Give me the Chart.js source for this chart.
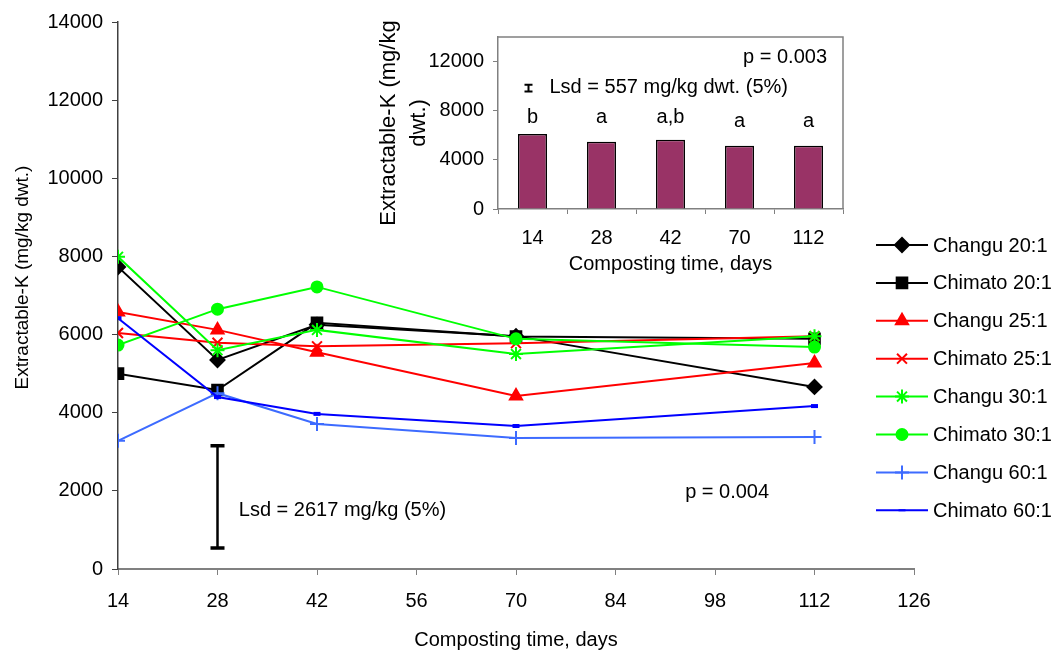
<!DOCTYPE html>
<html>
<head>
<meta charset="utf-8">
<style>
  html, body { margin: 0; padding: 0; background: #fff; }
  #wrap { position: relative; width: 1053px; height: 658px; }
  #main { position: absolute; left: 0; top: 0; }
  #inset { position: absolute; left: 360px; top: 15px; }
</style>
</head>
<body>
<div id="wrap">
  <canvas id="main" width="1053" height="658"></canvas>
  <canvas id="inset" width="495" height="265"></canvas>
</div>
<script src="https://cdn.jsdelivr.net/npm/chart.js@4.4.0/dist/chart.umd.min.js"></script>
<script>
// main chart data (mg/kg dwt.)
const days = [14, 28, 42, 70, 112];
const seriesNames = ['Changu 20:1', 'Chimato 20:1', 'Changu 25:1', 'Chimato 25:1',
                     'Changu 30:1', 'Chimato 30:1', 'Changu 60:1', 'Chimato 60:1'];
const changu20  = [7730, 5350, 6250, 5960, 4660];
const chimato20 = [5000, 4580, 6300, 5950, 5890];
const changu25  = [6580, 6120, 5550, 4430, 5270];
const chimato25 = [6040, 5790, 5700, 5780, 5960];
const changu30  = [7990, 5600, 6120, 5500, 5960];
const chimato30 = [5730, 6650, 7220, 5890, 5680];
const changu60  = [3280, 4500, 3710, 3350, 3380];
const chimato60 = [6420, 4400, 3970, 3660, 4170];
const xTickMin = 14, xTickMax = 126, xTickStep = 14;
const yTickMax = 14000, yTickStep = 2000;
const lsdMainDay = 28, lsdMainLow = 540, lsdMainValue = 2617;

// inset data
const insetDays = ['14', '28', '42', '70', '112'];
const insetMeans = [6100, 5470, 5630, 5140, 5140];
const insetLetters = ['b', 'a', 'a,b', 'a', 'a'];
const insetLetterY = [7450, 7450, 7450, 7100, 7100];
const insetYMax = 14000;
const insetYTicks = [0, 4000, 8000, 12000];
const lsdInsetLow = 9560, lsdInsetValue = 557;

const FAMILY = '"Liberation Sans", Arial, sans-serif';
const FS = 20;
const FONT = FS + 'px ' + FAMILY;

const styles = [
  { color: '#000000', point: 'rectRot', r: 7 },
  { color: '#000000', point: 'rect', r: 7.5 },
  { color: '#ff0000', point: 'triangle', r: 7 },
  { color: '#ff0000', point: 'crossRot', r: 7 },
  { color: '#00ff00', point: 'star', r: 7 },
  { color: '#00ff00', point: 'circle', r: 5.5 },
  { color: '#3d6bff', point: 'cross', r: 7 },
  { color: '#0000ff', point: 'line', r: 3.5 }
];
const allSeries = [changu20, chimato20, changu25, chimato25, changu30, chimato30, changu60, chimato60];

Chart.defaults.font.family = FAMILY;
Chart.defaults.font.size = FS;
Chart.defaults.color = '#000';

function marker(ctx, st, x, y) {
  ctx.fillStyle = st.color;
  ctx.strokeStyle = st.color;
  Chart.helpers.drawPoint(ctx, {
    pointStyle: st.point, radius: st.r, rotation: 0,
    borderWidth: st.point === 'line' ? 4 : 2
  }, x, y);
}

const mainExtras = {
  id: 'mainExtras',
  afterDatasetsDraw(chart) {
    const { ctx, chartArea: a, scales: { x, y } } = chart;
    ctx.save();
    // Lsd bar
    const lx = x.getPixelForValue(lsdMainDay);
    const y1 = y.getPixelForValue(lsdMainLow);
    const y2 = y.getPixelForValue(lsdMainLow + lsdMainValue);
    ctx.strokeStyle = '#000';
    ctx.lineWidth = 2.5;
    ctx.beginPath();
    ctx.moveTo(lx, y1); ctx.lineTo(lx, y2);
    ctx.stroke();
    ctx.lineWidth = 3.5;
    ctx.beginPath();
    ctx.moveTo(lx - 7, y1); ctx.lineTo(lx + 7, y1);
    ctx.moveTo(lx - 7, y2); ctx.lineTo(lx + 7, y2);
    ctx.stroke();

    ctx.font = FONT;
    ctx.fillStyle = '#000';
    ctx.textAlign = 'left';
    ctx.textBaseline = 'middle';
    ctx.fillText('Lsd = 2617 mg/kg (5%)', x.getPixelForValue(31), y.getPixelForValue(1510));
    ctx.fillText('p = 0.004', x.getPixelForValue(93.8), y.getPixelForValue(1970));

    // y axis title, sits a bit above the plot centre
    ctx.save();
    ctx.font = '19px ' + FAMILY;
    ctx.textAlign = 'center';
    ctx.translate(23, (a.top + a.bottom) / 2 - 18);
    ctx.rotate(-Math.PI / 2);
    ctx.fillText('Extractable-K (mg/kg dwt.)', 0, 0);
    ctx.restore();

    // legend
    const top = 245, step = 37.9;
    seriesNames.forEach((name, i) => {
      const st = styles[i];
      const ly = top + i * step;
      ctx.strokeStyle = st.color;
      ctx.lineWidth = 2;
      ctx.beginPath();
      ctx.moveTo(876, ly); ctx.lineTo(928, ly);
      ctx.stroke();
      marker(ctx, st, 902, ly);
      ctx.fillStyle = '#000';
      ctx.fillText(name, 933, ly + 1);
    });
    ctx.restore();
  }
};

new Chart(document.getElementById('main'), {
  type: 'line',
  data: {
    datasets: allSeries.map((vals, i) => ({
      label: seriesNames[i],
      data: vals.map((v, k) => ({ x: days[k], y: v })),
      borderColor: styles[i].color,
      backgroundColor: styles[i].color,
      pointBackgroundColor: styles[i].color,
      pointBorderColor: styles[i].color,
      pointStyle: styles[i].point,
      pointRadius: styles[i].r,
      pointBorderWidth: styles[i].point === 'line' ? 4 : 2,
      borderWidth: 2,
      tension: 0,
      order: 8 - i
    }))
  },
  options: {
    responsive: false,
    animation: false,
    layout: { padding: { left: 0, right: 139, top: 22, bottom: 0 } },
    plugins: { legend: { display: false }, tooltip: { enabled: false } },
    scales: {
      x: {
        type: 'linear',
        min: xTickMin, max: xTickMax,
        ticks: { stepSize: xTickStep, padding: 14, color: '#000', callback: v => String(v) },
        grid: { drawOnChartArea: false, tickLength: 6, color: '#808080' },
        border: { color: '#808080', width: 2 },
        title: { display: true, text: 'Composting time, days', padding: { top: 0, bottom: 6 } },
        afterFit(s) { s.height = 89; }
      },
      y: {
        min: 0, max: yTickMax,
        ticks: { stepSize: yTickStep, padding: 9, color: '#000', callback: v => String(v) },
        grid: { drawOnChartArea: false, tickLength: 6, color: '#404040' },
        border: { color: '#404040', width: 1.5 },
        afterFit(s) { s.width = 118; }
      }
    }
  },
  plugins: [mainExtras]
});

const insetExtras = {
  id: 'insetExtras',
  afterDatasetsDraw(chart) {
    const { ctx, chartArea: a, scales: { x, y } } = chart;
    ctx.save();
    // frame (top and right)
    ctx.strokeStyle = '#808080';
    ctx.lineWidth = 1.5;
    ctx.beginPath();
    ctx.moveTo(a.left, a.top); ctx.lineTo(a.right, a.top); ctx.lineTo(a.right, a.bottom);
    ctx.stroke();

    ctx.font = FONT;
    ctx.fillStyle = '#000';
    ctx.textBaseline = 'middle';
    ctx.textAlign = 'center';
    insetLetters.forEach((t, i) => {
      ctx.fillText(t, x.getPixelForValue(i), y.getPixelForValue(insetLetterY[i]));
    });
    ctx.textAlign = 'right';
    ctx.fillText('p = 0.003', a.right - 16, y.getPixelForValue(12300));
    ctx.textAlign = 'left';
    ctx.fillText('Lsd = 557 mg/kg dwt. (5%)', x.getPixelForValue(0) + 17, y.getPixelForValue(9900));

    // small Lsd bar
    const lx = x.getPixelForValue(0) - 4;
    const y1 = y.getPixelForValue(lsdInsetLow);
    const y2 = y.getPixelForValue(lsdInsetLow + lsdInsetValue);
    ctx.strokeStyle = '#000';
    ctx.lineWidth = 2;
    ctx.beginPath();
    ctx.moveTo(lx, y1); ctx.lineTo(lx, y2);
    ctx.moveTo(lx - 4, y1); ctx.lineTo(lx + 4, y1);
    ctx.moveTo(lx - 4, y2); ctx.lineTo(lx + 4, y2);
    ctx.stroke();
    ctx.restore();
  }
};

new Chart(document.getElementById('inset'), {
  type: 'bar',
  data: {
    labels: insetDays,
    datasets: [{
      data: insetMeans,
      backgroundColor: '#993366',
      borderColor: '#000',
      borderWidth: 1.5,
      barPercentage: 0.42,
      categoryPercentage: 1
    }]
  },
  options: {
    responsive: false,
    animation: false,
    layout: { padding: { left: 0, right: 12, top: 22, bottom: 0 } },
    plugins: { legend: { display: false }, tooltip: { enabled: false } },
    scales: {
      x: {
        grid: { offset: true, drawOnChartArea: false, tickLength: 5, color: '#808080' },
        border: { color: '#808080', width: 1.5 },
        ticks: { padding: 12, color: '#000' },
        title: { display: true, text: 'Composting time, days', padding: { top: 0, bottom: 4 } },
        afterFit(s) { s.height = 71; }
      },
      y: {
        min: 0, max: insetYMax,
        ticks: { padding: 9, color: '#000', callback: v => String(v) },
        afterBuildTicks(s) { s.ticks = insetYTicks.map(v => ({ value: v })); },
        grid: { drawOnChartArea: false, tickLength: 5, color: '#808080' },
        border: { color: '#808080', width: 1.5 },
        title: {
          display: true, text: ['Extractable-K (mg/kg', 'dwt.)'],
          font: { size: 22, lineHeight: 1.36 }, padding: { top: 14, bottom: 0 }
        },
        afterFit(s) { s.width = 138; }
      }
    }
  },
  plugins: [insetExtras]
});
</script>
</body>
</html>
